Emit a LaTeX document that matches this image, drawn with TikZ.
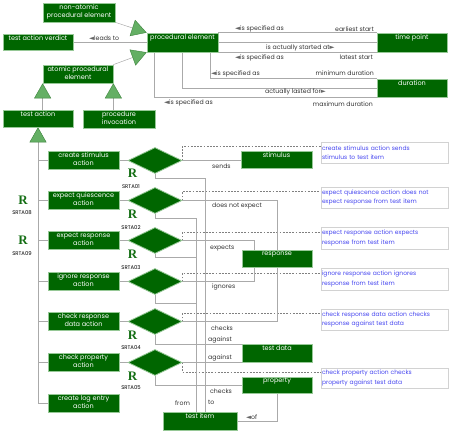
\documentclass[tikz,border=0pt]{standalone}
\usepackage{fontspec}
\setmainfont{Poppins}
\newfontfamily\symfont{DejaVu Sans}
\newfontfamily\rfont{Liberation Serif}
\usetikzlibrary{shapes.geometric,arrows.meta,shadows,backgrounds}
\definecolor{boxgreen}{RGB}{0,102,0}
\definecolor{boxlight}{RGB}{150,200,150}
\definecolor{linegray}{RGB}{170,170,170}
\definecolor{labgray}{RGB}{50,50,50}
\definecolor{cblue}{RGB}{70,70,240}
\definecolor{trigreen}{RGB}{100,175,100}
\definecolor{triedge}{RGB}{60,130,60}
\definecolor{rgreen}{RGB}{20,110,20}
\newcommand\lar{{\symfont\color{gray!80!black}\fontsize{6.5}{6.5}\selectfont ◄}}
\newcommand\rar{{\symfont\color{gray!80!black}\fontsize{6.5}{6.5}\selectfont ►}}
\begin{document}
\begin{tikzpicture}[x=1pt,y=-1pt,
  gbox/.style={rectangle, fill=boxgreen, draw=boxlight, line width=0.7pt, inner sep=0pt,
    drop shadow={shadow xshift=0.9pt, shadow yshift=-0.9pt, fill=black!55, opacity=1}},
  bt/.style={text=white, font=\fontsize{6.5}{7.8}\selectfont, align=center, inner sep=0pt, anchor=north, yshift=-1.6pt},
  abox/.style={gbox, minimum width=71pt, minimum height=18pt},
  dia/.style={diamond, fill=boxgreen, draw=boxlight, line width=0.8pt, minimum width=54pt, minimum height=26pt, inner sep=0pt},
  cbox/.style={rectangle, fill=white, draw=gray!35, line width=0.5pt, text=cblue, align=left,
    inner sep=1pt, minimum width=127pt, text width=125pt, font=\fontsize{6}{9.5}\selectfont,
    drop shadow={shadow xshift=1pt, shadow yshift=-1pt, fill=black!40, opacity=1}},
  conn/.style={draw=linegray, line width=0.5pt},
  dashline/.style={draw=gray, line width=0.5pt, dash pattern=on 1.8pt off 1.4pt},
  gen/.style={conn, -{Triangle[length=15pt, width=17pt, color=triedge, fill=trigreen, line width=0.4pt]}},
  lab/.style={text=labgray, inner sep=0pt, anchor=west, font=\fontsize{6.2}{7}\selectfont},
  rl/.style={text=rgreen, inner sep=0pt, font=\rfont\bfseries\fontsize{13}{13}\selectfont},
  sl/.style={text=black, inner sep=0pt, font=\fontsize{5.3}{6}\selectfont}]
\useasboundingbox (0,0) rectangle (450,433);

% top part boxes
\node[gbox, minimum width=72pt, minimum height=19pt, label={[bt]north:{non-atomic\\procedural element}}] (nape) at (79,12.5) {};
\node[gbox, minimum width=70pt, minimum height=16pt, label={[bt]north:{test action verdict}}] (tav) at (38,42) {};
\node[gbox, minimum width=71pt, minimum height=19pt, label={[bt]north:{procedural element}}] (pe) at (182.5,42.5) {};
\node[gbox, minimum width=70pt, minimum height=18pt, label={[bt]north:{atomic procedural\\element}}] (apel) at (78,74) {};
\node[gbox, minimum width=70pt, minimum height=17pt, label={[bt]north:{test action}}] (ta) at (38,118.5) {};
\node[gbox, minimum width=72pt, minimum height=18pt, label={[bt]north:{procedure\\invocation}}] (pi) at (119,119) {};
\node[gbox, minimum width=70pt, minimum height=19pt, label={[bt]north:{time point}}] (tp) at (412,42.5) {};
\node[gbox, minimum width=70pt, minimum height=18pt, label={[bt]north:{duration}}] (dur) at (412,88) {};

% actions
\node[abox, label={[bt]north:{create stimulus\\action}}] (a1) at (83.5,160.5) {};
\node[abox, label={[bt]north:{expect quiescence\\action}}] (a2) at (83.5,200.5) {};
\node[abox, label={[bt]north:{expect response\\action}}] (a3) at (83.5,240.5) {};
\node[abox, label={[bt]north:{ignore response\\action}}] (a4) at (83.5,281.5) {};
\node[abox, label={[bt]north:{check response\\data action}}] (a5) at (83.5,321.5) {};
\node[abox, label={[bt]north:{check property\\action}}] (a6) at (83.5,362.5) {};
\node[abox, label={[bt]north:{create log entry\\action}}] (a7) at (83.5,403.5) {};

% diamonds
\node[dia] (d1) at (155,160.5) {};
\node[dia] (d2) at (155,200.5) {};
\node[dia] (d3) at (155,240.5) {};
\node[dia] (d4) at (155,281.5) {};
\node[dia] (d5) at (155,321.5) {};
\node[dia] (d6) at (155,362.5) {};

% entities
\node[gbox, minimum width=71pt, minimum height=17pt, label={[bt]north:{stimulus}}] (stim) at (276.5,160) {};
\node[gbox, minimum width=70pt, minimum height=17pt, label={[bt]north:{response}}] (resp) at (277,258.5) {};
\node[gbox, minimum width=70pt, minimum height=18pt, label={[bt]north:{test data}}] (td) at (277,353) {};
\node[gbox, minimum width=70pt, minimum height=16pt, label={[bt]north:{property}}] (prop) at (277,385) {};
\node[gbox, minimum width=74pt, minimum height=18pt, label={[bt]north:{test item}}] (ti) at (200,421) {};

% comments
\node[cbox, minimum height=21pt] (c1) at (384.5,152.5) {create stimulus action sends\\stimulus to test item};
\node[cbox, minimum height=21pt] (c2) at (384.5,197.5) {expect quiescence action does not\\expect response from test item};
\node[cbox, minimum height=22pt] (c3) at (384.5,238) {expect response action expects\\response from test item};
\node[cbox, minimum height=22pt] (c4) at (384.5,279) {ignore response action ignores\\response from test item};
\node[cbox, minimum height=21pt] (c5) at (384.5,319.5) {check response data action checks\\response against test data};
\node[cbox, minimum height=20pt] (c6) at (384.5,378) {check property action checks\\property against test data};

\coordinate (tiL) at ([xshift=-4pt]ti.north);
\coordinate (tiR) at ([xshift=5pt]ti.north);
\coordinate (rA) at ([xshift=-23pt]resp.north);
\coordinate (rB) at ([xshift=-23pt]resp.south);

\begin{pgfonlayer}{background}
\draw[conn] (tav.east) -- (tav.east -| pe.west);
\draw[gen] (nape.south east) -- (pe.north west);
\draw[gen] (apel.north east) -- (pe.south west);
\draw[gen] (apel.south west |- ta.north) -- (apel.south west);
\draw[gen] (apel.south east |- pi.north) -- (apel.south east);
\draw[gen] (a7.west) -| (ta.south);
\foreach \i in {1,...,6} {
  \draw[conn] (a\i.west) -- (a\i.west -| ta.south);
  \draw[conn] (a\i.east) -- (d\i.west);
  \draw[dashline] (d\i.east) |- ([yshift=6pt]c\i.west);
}
\draw[conn] (pe.north east) -- (tp.north west);
\draw[conn] (pe.east) -- (tp.west);
\draw[conn] (pe.south east) -- (tp.south west);
\draw[conn] ([xshift=-8pt]pe.south east) |- (dur.north west);
\draw[conn] (pe.south) |- (dur.west);
\draw[conn] ([xshift=8pt]pe.south west) |- (dur.south west);
\draw[conn] (d1.east) -- (d1.east -| stim.west);
\draw[conn] (d1.south) -- (d1.south |- 0,178) -| (tiR);
\draw[conn] (d2.south) -- (d2.south |- 0,218) -| (tiL);
\draw[conn] (d3.south) -- (d3.south |- 0,257) -| (tiL);
\draw[conn] (d4.south) -- (d4.south |- 0,303) -| (tiL);
\draw[conn] (d2.east) -| (resp.north);
\draw[conn] (d3.east) -| (rA);
\draw[conn] (d4.east) -| (rB);
\draw[conn] (d5.east) -| (resp.south);
\draw[conn] (d5.south) |- ([yshift=-1pt]td.north west);
\draw[conn] (d6.east) -- (d6.east -| td.west);
\draw[conn] (d6.south) |- (prop.west);
\draw[conn] (prop.south) |- (ti.east);
\end{pgfonlayer}

% connector labels
\node[lab] (l0) at (89,38) {\lar leads to};
\node[lab] (l1) at (235,29) {\lar is specified as};
\node[lab, anchor=east] (l2) at (374,29) {earliest start};
\node[lab] (l3) at (266,48) {is actually started at\rar};
\node[lab] (l4) at (235,58) {\lar is specified as};
\node[lab, anchor=east] (l5) at (373,57) {latest start};
\node[lab] (l6) at (211,74) {\lar is specified as};
\node[lab, anchor=east] (l7) at (374,73) {minimum duration};
\node[lab] (l8) at (265,92) {actually lasted for\rar};
\node[lab] (l9) at (164,103) {\lar is specified as};
\node[lab, anchor=east] (l10) at (373,104) {maximum duration};
\node[lab] (l11) at (212,166) {sends};
\node[lab] (l12) at (212,206) {does not expect};
\node[lab] (l13) at (210,248) {expects};
\node[lab] (l14) at (212,287) {ignores};
\node[lab] (l15) at (211,328) {checks};
\node[lab] (l16) at (208,340) {against};
\node[lab] (l17) at (208,358) {against};
\node[lab] (l18) at (210,391) {checks};
\node[lab] (l19) at (208,402) {to};
\node[lab] (l20) at (175,403) {from};
\node[lab] (l21) at (246,417) {\lar of};

% requirement marks
\node[rl] (r1) at (132.5,173.5) {R};
\node[sl] (s1) at (131,187) {SRTA01};
\node[rl] (r2) at (132.5,214.5) {R};
\node[sl] (s2) at (131,228) {SRTA02};
\node[rl] (r3) at (132.5,254.5) {R};
\node[sl] (s3) at (131,268) {SRTA03};
\node[rl] (r4) at (132.5,335.5) {R};
\node[sl] (s4) at (131,348) {SRTA04};
\node[rl] (r5) at (132.5,376.5) {R};
\node[sl] (s5) at (131,388) {SRTA05};
\node[rl] (r8) at (23,200.5) {R};
\node[sl] (s8) at (22,213) {SRTA08};
\node[rl] (r9) at (23,240.5) {R};
\node[sl] (s9) at (22,254) {SRTA09};
\end{tikzpicture}
\end{document}
